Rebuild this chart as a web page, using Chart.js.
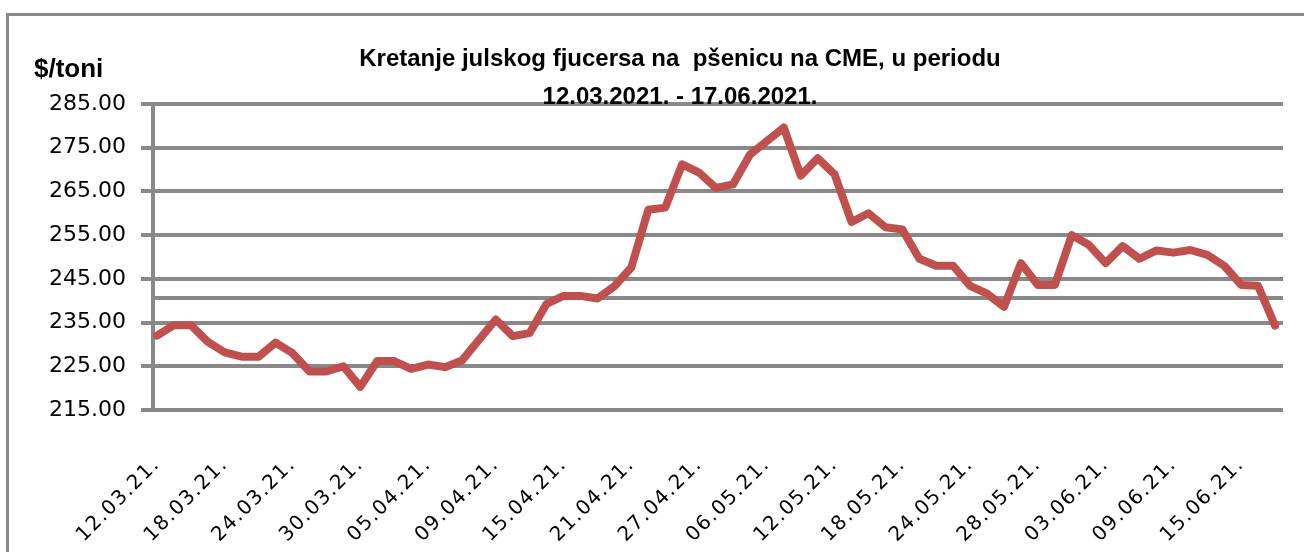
<!DOCTYPE html>
<html>
<head>
<meta charset="utf-8">
<script src="https://cdn.jsdelivr.net/npm/chart.js@4.4.1/dist/chart.umd.min.js"></script>
<style>
  body { margin: 0; background: #fff; }
  #wrap { position: relative; width: 1304px; height: 552px; overflow: hidden; }
  #frame { position: absolute; left: 6px; top: 13px; width: 1400px; height: 600px;
           border-left: 3px solid #898989; border-top: 3px solid #898989; }
  #title { position: absolute; left: 330px; width: 700px; top: 39px; text-align: center;
           font: bold 24px "Liberation Sans", Arial, sans-serif; line-height: 38px;
           white-space: pre; color: #000; }
  #unit { position: absolute; left: 34px; top: 53px; line-height: 28px;
          font: bold 26px "Liberation Sans", Arial, sans-serif; color: #000; }
  canvas { position: absolute; left: 0; top: 0; }
</style>
</head>
<body>
<div id="wrap">
  <div id="frame"></div>
  <canvas id="wheatChart" width="1304" height="552"></canvas>
  <div id="title">Kretanje julskog fjucersa na  pšenicu na CME, u periodu
12.03.2021. - 17.06.2021.</div>
  <div id="unit">$/toni</div>
</div>
<script>
// datumi trgovanja (prikazuje se svaki 4.)
const dates = ['12.03.21.', '15.03.21.', '16.03.21.', '17.03.21.', '18.03.21.', '19.03.21.', '22.03.21.', '23.03.21.',
  '24.03.21.', '25.03.21.', '26.03.21.', '29.03.21.', '30.03.21.', '31.03.21.', '01.04.21.', '02.04.21.',
  '05.04.21.', '06.04.21.', '07.04.21.', '08.04.21.', '09.04.21.', '12.04.21.', '13.04.21.', '14.04.21.',
  '15.04.21.', '16.04.21.', '19.04.21.', '20.04.21.', '21.04.21.', '22.04.21.', '23.04.21.', '26.04.21.',
  '27.04.21.', '29.04.21.', '03.05.21.', '05.05.21.', '06.05.21.', '07.05.21.', '10.05.21.', '11.05.21.',
  '12.05.21.', '13.05.21.', '14.05.21.', '17.05.21.', '18.05.21.', '19.05.21.', '20.05.21.', '21.05.21.',
  '24.05.21.', '25.05.21.', '26.05.21.', '27.05.21.', '28.05.21.', '31.05.21.', '01.06.21.', '02.06.21.',
  '03.06.21.', '04.06.21.', '07.06.21.', '08.06.21.', '09.06.21.', '10.06.21.', '11.06.21.', '14.06.21.',
  '15.06.21.', '16.06.21.', '17.06.21.'];

// cijena julskog fjucersa, $/toni
const prices = [232.0, 234.4, 234.4, 230.6, 228.2, 227.2, 227.2, 230.4,
  228.0, 223.8, 223.8, 225.0, 220.3, 226.2, 226.2, 224.4,
  225.4, 224.8, 226.3, 231.0, 235.7, 231.9, 232.6, 239.3,
  241.1, 241.1, 240.5, 243.3, 247.6, 260.8, 261.3, 271.2,
  269.3, 265.8, 266.6, 273.4, 276.5, 279.6, 268.6, 272.6,
  268.9, 258.0, 260.0, 256.8, 256.3, 249.6, 248.0, 248.0,
  243.4, 241.6, 238.6, 248.6, 243.6, 243.6, 255.0, 252.8,
  248.6, 252.5, 249.6, 251.5, 251.0, 251.6, 250.5, 248.0,
  243.6, 243.4, 234.3];

const yTicks = [215, 225, 235, 245, 255, 265, 275, 285];
const extraLine = 240.7;   // dodatna linija bez oznake
const labelStep = 4;

const gray = '#898989';

// razmak slova na datumima
const spacedLabels = {
  id: 'spacedLabels',
  beforeDraw(chart) {
    const sc = chart.scales.x;
    if (sc._spaced) return;
    const orig = sc.drawLabels;
    sc.drawLabels = function (area) {
      this.ctx.save();
      this.ctx.letterSpacing = '1.5px';
      orig.call(this, area);
      this.ctx.restore();
    };
    sc._spaced = true;
  }
};

const ctxW = document.getElementById('wheatChart');
const wheatChart = new Chart(ctxW, {
  type: 'line',
  data: {
    datasets: [{
      label: 'pšenica',
      data: prices.map((p, i) => ({ x: i, y: p })),
      borderColor: '#C0504D',
      backgroundColor: '#C0504D',
      borderWidth: 8,
      borderJoinStyle: 'round',
      borderCapStyle: 'round',
      pointRadius: 0,
      tension: 0
    }]
  },
  options: {
    responsive: false,
    animation: false,
    layout: { padding: { top: 104, right: 21, bottom: 0, left: 0 } },
    plugins: {
      legend: { display: false },
      title: { display: false },
      tooltip: { enabled: false }
    },
    scales: {
      x: {
        type: 'linear',
        min: -0.236,
        max: 66.47,
        afterBuildTicks: (s) => {
          s.ticks = dates.map((d, i) => i).filter(i => i % labelStep === 0).map(i => ({ value: i }));
        },
        afterFit: (s) => { s.height = 142; },
        grid: { display: false, drawTicks: false },
        border: { display: false },
        ticks: {
          autoSkip: false,
          minRotation: 45,
          maxRotation: 45,
          padding: 43,
          color: '#000',
          font: { family: 'DejaVu Sans', size: 20 },
          callback: (v) => dates[v] || ''
        }
      },
      y: {
        min: 215,
        max: 285,
        afterBuildTicks: (s) => {
          s.ticks = yTicks.concat([extraLine]).sort((a, b) => a - b).map(v => ({ value: v }));
        },
        afterFit: (s) => { s.width = 153; },
        grid: {
          color: gray,
          lineWidth: 4,
          tickLength: 12,
          tickColor: (c) => (c.tick && c.tick.value === extraLine) ? 'rgba(0,0,0,0)' : gray
        },
        border: { display: true, color: gray, width: 4 },
        ticks: {
          padding: 15,
          color: '#000',
          font: { family: 'DejaVu Sans', size: 22 },
          callback: (v) => yTicks.includes(v) ? v.toFixed(2) : ''
        }
      }
    }
  },
  plugins: [spacedLabels]
});
</script>
</body>
</html>
